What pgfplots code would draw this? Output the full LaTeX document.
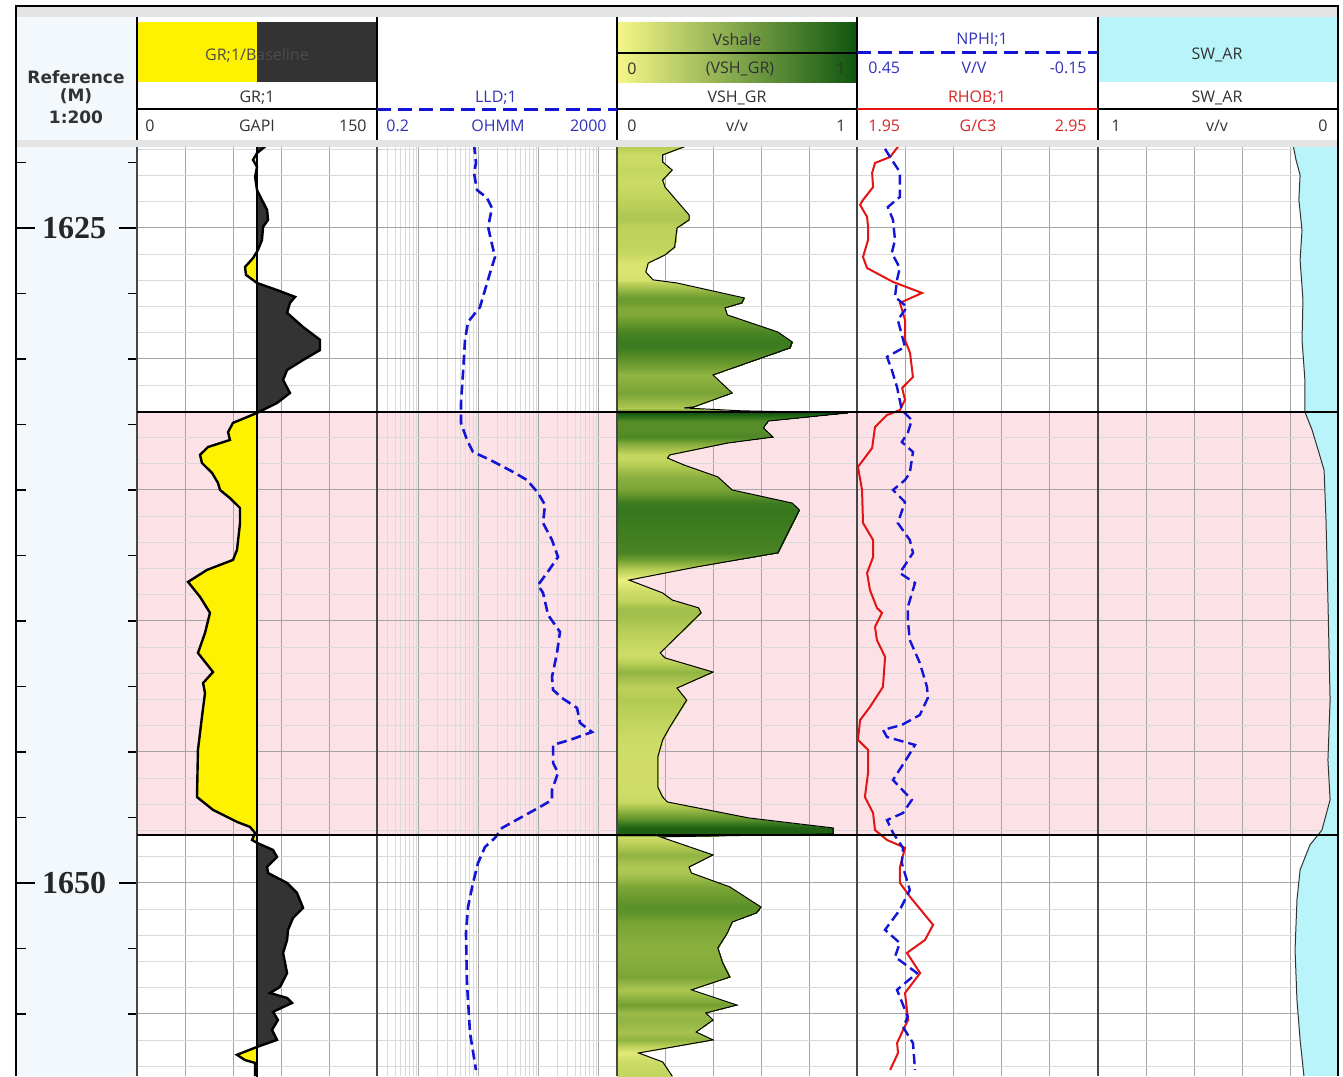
\documentclass[border=0pt]{standalone}
\usepackage{fontspec}
\setmainfont{Open Sans}
\newfontfamily\reffont{DejaVu Sans}
\newfontfamily\depthfont{Liberation Serif}
\usepackage{pgfplots}
\pgfplotsset{compat=1.18}
\usepackage{pgfplotstable}

\definecolor{grdark}{RGB}{51,51,51}
\definecolor{zonepink}{RGB}{252,226,230}
\definecolor{swcyan}{RGB}{185,244,250}
\definecolor{depthbg}{RGB}{243,248,253}
\definecolor{hdrgray}{RGB}{228,228,228}
\definecolor{gridmaj}{RGB}{165,165,165}
\definecolor{gridmin}{RGB}{218,218,218}
\definecolor{trackline}{RGB}{70,70,70}
\definecolor{lldblue}{RGB}{20,20,215}
\definecolor{bluetxt}{RGB}{50,50,190}
\definecolor{rhobred}{RGB}{228,20,20}
\definecolor{redtxt}{RGB}{215,40,40}
\definecolor{txt}{RGB}{50,50,50}
\definecolor{vshA}{RGB}{245,247,135}
\definecolor{vshC}{RGB}{120,165,50}
\definecolor{vshE}{RGB}{15,85,15}

\newcommand\hdr{\fontsize{8}{9}\selectfont}

\pgfplotstableread{
d gr
1621.80 81.9
1622.14 75.0
1622.40 72.5
1622.67 75.0
1623.05 73.8
1623.55 75.0
1623.93 78.1
1624.31 81.3
1624.69 81.9
1624.96 78.8
1625.46 78.1
1625.84 75.6
1626.15 72.5
1626.49 67.5
1626.79 68.1
1627.10 75.0
1627.37 87.5
1627.63 98.8
1627.86 95.6
1628.24 93.8
1628.78 103.8
1629.27 114.4
1629.66 114.4
1630.04 103.8
1630.42 93.8
1630.80 91.3
1631.30 95.6
1631.68 87.5
1632.06 75.0
1632.44 60.0
1632.79 56.9
1633.09 58.1
1633.36 44.4
1633.66 39.4
1633.97 40.6
1634.35 46.9
1634.73 50.6
1635.00 51.9
1635.31 58.1
1635.69 64.4
1636.26 64.4
1637.29 62.5
1637.67 60.0
1638.05 43.8
1638.51 31.9
1639.08 39.4
1639.69 45.6
1640.46 42.5
1641.22 38.1
1641.95 47.5
1642.37 41.3
1642.75 42.5
1643.66 40.6
1644.92 38.1
1646.72 37.5
1647.21 47.5
1647.67 62.5
1647.86 70.6
1648.09 73.8
1648.36 71.9
1648.47 75.0
1648.74 85.0
1649.01 87.5
1649.39 81.3
1649.62 81.9
1650.00 93.8
1650.38 100.0
1650.95 103.8
1651.34 97.5
1651.79 94.4
1652.18 93.8
1652.67 91.3
1653.44 93.8
1653.97 89.4
1654.20 83.1
1654.39 93.8
1654.58 96.9
1654.92 85.0
1655.23 88.1
1655.61 84.4
1655.99 87.5
1656.26 75.0
1656.56 62.5
1656.76 67.5
1656.87 73.8
1657.37 73.8
}\grdata

\pgfplotstableread{
d r
1621.80 8.28
1622.52 8.93
1622.90 8.28
1623.55 9.28
1623.85 13.6
1624.24 16.5
1624.96 14.2
1625.46 15.9
1626.11 18.5
1626.72 15.3
1627.37 12.6
1628.02 10.4
1628.59 6.57
1629.27 5.86
1630.53 5.43
1631.68 5.02
1632.44 5.02
1633.09 6.32
1633.55 7.96
1633.85 15.3
1634.31 37.0
1634.62 63.2
1635.11 96.4
1635.57 126
1636.26 117
1636.91 165
1637.56 208
1638.17 136
1638.63 96.4
1638.93 117
1639.58 136
1639.77 142
1640.42 224
1641.22 200
1642.14 165
1642.63 172
1642.94 242
1643.32 431
1643.89 484
1644.24 766
1644.54 329
1644.73 172
1645.42 172
1645.80 208
1646.45 165
1646.83 165
1647.10 104
1647.52 48.4
1647.90 24.3
1648.28 18.5
1648.63 12.6
1649.24 9.65
1650.00 7.96
1650.92 6.57
1651.91 6.08
1653.82 6.32
1655.73 7.10
1657.14 8.93
}\llddata

\pgfplotstableread{
x d v
0 1621.80 0.31
0.31 1621.80 0.31
0 1622.21 0.19
0.19 1622.21 0.19
0 1622.48 0.19
0.19 1622.48 0.19
0 1622.79 0.23
0.23 1622.79 0.23
0 1623.17 0.19
0.19 1623.17 0.19
0 1623.44 0.20
0.20 1623.44 0.20
0 1624.50 0.30
0.30 1624.50 0.30
0 1624.69 0.30
0.30 1624.69 0.30
0 1625.00 0.25
0.25 1625.00 0.25
0 1625.73 0.24
0.24 1625.73 0.24
0 1626.03 0.20
0.20 1626.03 0.20
0 1626.34 0.13
0.13 1626.34 0.13
0 1626.68 0.12
0.12 1626.68 0.12
0 1626.98 0.15
0.15 1626.98 0.15
0 1627.10 0.25
0.25 1627.10 0.25
0 1627.67 0.53
0.53 1627.67 0.53
0 1627.86 0.52
0.52 1627.86 0.52
0 1628.05 0.45
0.45 1628.05 0.45
0 1628.32 0.46
0.46 1628.32 0.46
0 1628.97 0.67
0.67 1628.97 0.67
0 1629.35 0.73
0.73 1629.35 0.73
0 1629.58 0.72
0.72 1629.58 0.72
0 1630.61 0.40
0.40 1630.61 0.40
0 1631.30 0.48
0.48 1631.30 0.48
0 1631.83 0.32
0.32 1631.83 0.32
0 1631.87 0.28
0.28 1631.87 0.28
0 1631.98 0.52
0.52 1631.98 0.52
0 1632.06 0.96
0.96 1632.06 0.96
0 1632.37 0.63
0.63 1632.37 0.63
0 1632.63 0.61
0.61 1632.63 0.61
0 1632.98 0.65
0.65 1632.98 0.65
0 1633.21 0.46
0.46 1633.21 0.46
0 1633.66 0.22
0.22 1633.66 0.22
0 1633.78 0.21
0.21 1633.78 0.21
0 1634.05 0.28
0.28 1634.05 0.28
0 1634.50 0.42
0.42 1634.50 0.42
0 1635.00 0.48
0.48 1635.00 0.48
0 1635.50 0.73
0.73 1635.50 0.73
0 1635.76 0.76
0.76 1635.76 0.76
0 1637.40 0.67
0.67 1637.40 0.67
0 1637.94 0.33
0.33 1637.94 0.33
0 1638.44 0.05
0.05 1638.44 0.05
0 1638.93 0.19
0.19 1638.93 0.19
0 1639.20 0.23
0.23 1639.20 0.23
0 1639.50 0.34
0.34 1639.50 0.34
0 1639.69 0.35
0.35 1639.69 0.35
0 1641.22 0.18
0.18 1641.22 0.18
0 1641.41 0.20
0.20 1641.41 0.20
0 1641.95 0.40
0.40 1641.95 0.40
0 1642.56 0.25
0.25 1642.56 0.25
0 1643.02 0.29
0.29 1643.02 0.29
0 1644.05 0.22
0.22 1644.05 0.22
0 1644.54 0.19
0.19 1644.54 0.19
0 1645.19 0.17
0.17 1645.19 0.17
0 1646.34 0.17
0.17 1646.34 0.17
0 1646.72 0.19
0.19 1646.72 0.19
0 1646.91 0.21
0.21 1646.91 0.21
0 1647.52 0.55
0.55 1647.52 0.55
0 1647.90 0.90
0.90 1647.90 0.90
0 1648.13 0.90
0.90 1648.13 0.90
0 1648.24 0.18
0.18 1648.24 0.18
0 1648.93 0.40
0.40 1648.93 0.40
0 1649.39 0.30
0.30 1649.39 0.30
0 1649.62 0.31
0.31 1649.62 0.31
0 1650.15 0.47
0.47 1650.15 0.47
0 1650.92 0.60
0.60 1650.92 0.60
0 1651.15 0.58
0.58 1651.15 0.58
0 1651.49 0.48
0.48 1651.49 0.48
0 1651.91 0.46
0.46 1651.91 0.46
0 1652.48 0.42
0.42 1652.48 0.42
0 1653.05 0.44
0.44 1653.05 0.44
0 1653.59 0.47
0.47 1653.59 0.47
0 1654.08 0.31
0.31 1654.08 0.31
0 1654.66 0.50
0.50 1654.66 0.50
0 1654.96 0.37
0.37 1654.96 0.37
0 1655.23 0.40
0.40 1655.23 0.40
0 1655.69 0.33
0.33 1655.69 0.33
0 1655.99 0.40
0.40 1655.99 0.40
0 1656.49 0.09
0.09 1656.49 0.09
0 1656.83 0.19
0.19 1656.83 0.19
0 1657.37 0.23
0.23 1657.37 0.23
}\vshdata

\pgfplotstableread{
d rhob
1621.80 2.129
1622.29 2.088
1622.52 2.025
1622.90 2.013
1623.44 2.017
1623.93 1.975
1624.12 1.963
1624.58 1.992
1624.96 1.996
1625.46 1.996
1626.11 1.975
1626.53 1.992
1627.06 2.100
1627.48 2.221
1627.86 2.129
1628.51 2.150
1629.27 2.150
1629.77 2.171
1630.69 2.183
1631.11 2.138
1631.56 2.150
1631.95 2.129
1632.14 2.075
1632.60 2.025
1633.40 2.013
1634.12 1.954
1635.00 1.971
1636.26 1.975
1636.91 2.017
1637.56 2.017
1638.17 1.992
1638.82 2.004
1639.50 2.033
1639.69 2.054
1640.23 2.025
1640.73 2.033
1641.37 2.067
1642.52 2.058
1643.28 2.004
1643.78 1.963
1644.54 1.954
1644.92 1.996
1645.80 1.996
1646.72 1.983
1647.33 2.017
1647.98 2.025
1648.36 2.075
1648.66 2.150
1649.39 2.129
1650.00 2.129
1650.53 2.171
1651.60 2.267
1652.18 2.233
1652.67 2.158
1653.44 2.213
1654.20 2.150
1655.23 2.163
1655.61 2.142
1656.11 2.117
1656.49 2.121
1657.14 2.088
}\rhobdata

\pgfplotstableread{
d nphi
1621.98 0.380
1622.40 0.363
1622.86 0.343
1623.82 0.343
1624.20 0.373
1624.69 0.360
1625.46 0.355
1625.95 0.363
1626.53 0.343
1626.98 0.350
1627.63 0.355
1628.02 0.325
1628.51 0.348
1629.54 0.330
1629.92 0.375
1630.42 0.363
1631.07 0.350
1631.95 0.338
1632.33 0.313
1632.82 0.323
1633.17 0.338
1633.55 0.310
1634.35 0.318
1634.62 0.330
1635.00 0.360
1635.46 0.330
1636.26 0.348
1636.91 0.318
1637.40 0.310
1638.17 0.343
1638.55 0.305
1639.47 0.323
1639.96 0.323
1640.73 0.318
1641.60 0.293
1642.52 0.275
1642.94 0.273
1643.59 0.293
1643.97 0.338
1644.16 0.385
1644.43 0.375
1644.73 0.305
1645.19 0.323
1646.07 0.360
1646.83 0.313
1647.33 0.335
1647.60 0.375
1648.09 0.360
1648.66 0.335
1649.24 0.338
1650.27 0.318
1651.03 0.343
1651.79 0.380
1652.29 0.343
1652.82 0.355
1653.44 0.300
1654.08 0.350
1655.11 0.323
1655.50 0.335
1656.11 0.310
1657.14 0.305
}\nphidata

\pgfplotstableread{
d sw
1621.80 0.188
1622.40 0.175
1622.98 0.158
1623.93 0.163
1625.08 0.150
1626.22 0.158
1627.75 0.146
1629.27 0.150
1630.80 0.138
1632.02 0.138
1632.71 0.108
1633.47 0.083
1634.24 0.058
1636.15 0.050
1639.20 0.042
1643.02 0.033
1645.31 0.042
1646.83 0.033
1647.98 0.067
1648.55 0.117
1649.50 0.158
1650.65 0.171
1652.56 0.179
1654.47 0.171
1655.99 0.158
1657.37 0.142
}\swdata

\pgfplotsset{
  track/.style={scale only axis, width=120pt, height=464.5pt, anchor=north west,
    y dir=reverse, ymin=1621.91, ymax=1657.37,
    ytick={1625,1630,...,1655}, minor ytick={1622,1623,...,1657},
    yticklabels={}, xticklabels={},
    major tick length=0pt, minor tick length=0pt,
    grid=both,
    major grid style={draw=gridmaj, line width=0.5pt},
    minor grid style={draw=gridmin, line width=0.5pt},
    axis line style={draw=none}},
}

\begin{document}
\begin{tikzpicture}
% ---------- backgrounds and header boxes ----------
\begin{scope}[x=0.5pt,y=-0.5pt]
\fill[white] (0,0) rectangle (1343,1076);
\fill[hdrgray] (17,7) rectangle (1338,17);
\fill[depthbg] (17,17) rectangle (137,1076);
\fill[hdrgray] (17,140) rectangle (1338,147);
\fill[zonepink] (137,412) rectangle (1338,835);
\fill[yellow] (137,22) rectangle (257,82);
\fill[grdark] (257,22) rectangle (377,82);
\shade[left color=vshA, middle color=vshC, right color=vshE] (618,22) rectangle (856,82);
\draw[black, line width=0.6pt] (618,53) -- (856,53);
\fill[swcyan] (1098,17) rectangle (1338,82);
\end{scope}

% ---------- depth track ----------
\begin{axis}[scale only axis, width=60pt, height=464.5pt, at={(8.5pt,-73.5pt)}, anchor=north west,
  y dir=reverse, ymin=1621.91, ymax=1657.37, xmin=0, xmax=1, xtick=\empty,
  ytick={1625,1650}, minor ytick={1622.5,1627.5,1630,1632.5,1635,1637.5,1640,1642.5,1645,1647.5,1652.5,1655},
  yticklabels={}, ytick pos=both, tick align=inside,
  major tick length=9pt, minor tick length=4.5pt,
  tick style={black, line width=0.6pt},
  axis line style={draw=none}]
\node[font=\depthfont\bfseries\fontsize{16}{18}\selectfont, text=black!85] at (axis cs:0.475,1625) {1625};
\node[font=\depthfont\bfseries\fontsize{16}{18}\selectfont, text=black!85] at (axis cs:0.475,1650) {1650};
\end{axis}

% ---------- GR track ----------
\begin{axis}[track, at={(68.5pt,-73.5pt)}, xmin=0, xmax=150, xtick={30,60,90,120}]
\addplot[fill=yellow, draw=none] table[x expr={min(\thisrow{gr},75)}, y=d]{\grdata}
   -- (axis cs:75,1657.37) -- (axis cs:75,1621.80) -- cycle;
\addplot[fill=grdark, draw=none] table[x expr={max(\thisrow{gr},75)}, y=d]{\grdata}
   -- (axis cs:75,1657.37) -- (axis cs:75,1621.80) -- cycle;
\draw[black, line width=0.6pt] (axis cs:75,1621.5) -- (axis cs:75,1657.6);
\addplot[black, line width=1.2pt] table[x=gr,y=d]{\grdata};
\end{axis}

% ---------- LLD track ----------
\begin{axis}[track, at={(188.5pt,-73.5pt)}, xmode=log, log basis x=10, xmin=0.2, xmax=2000,
  xtick={1,10,100,1000},
  minor xtick={0.3,0.4,0.5,0.6,0.7,0.8,0.9,2,3,4,5,6,7,8,9,20,30,40,50,60,70,80,90,200,300,400,500,600,700,800,900}]
\addplot[lldblue, line width=1.3pt, dash pattern=on 5pt off 2.5pt] table[x=r,y=d]{\llddata};
\end{axis}

% ---------- VSH track ----------
\begin{axis}[track, at={(308.5pt,-73.5pt)}, xmin=0, xmax=1, xtick={0.2,0.4,0.6,0.8},
  colormap={vsh}{rgb255(0)=(245,247,135) rgb255(0.25)=(190,210,90) rgb255(0.5)=(115,160,50) rgb255(0.75)=(55,120,30) rgb255(1)=(15,80,15)},
  point meta min=0, point meta max=1]
\addplot[surf, shader=interp, mesh/cols=2, mesh/ordering=x varies, point meta=\thisrow{v}] table[x=x,y=d]{\vshdata};
\addplot[black, line width=0.5pt] table[x=v,y=d]{\vshdata};
\end{axis}

% ---------- NPHI / RHOB track ----------
\begin{axis}[track, at={(428.5pt,-73.5pt)}, xmin=1.95, xmax=2.95, xtick={2.15,2.35,2.55,2.75}]
\addplot[rhobred, line width=1pt] table[x=rhob,y=d]{\rhobdata};
\end{axis}
\begin{axis}[track, at={(428.5pt,-73.5pt)}, xmin=-0.15, xmax=0.45, x dir=reverse, grid=none]
\addplot[lldblue, line width=1.2pt, dash pattern=on 5pt off 2.5pt] table[x=nphi,y=d]{\nphidata};
\end{axis}

% ---------- SW track ----------
\begin{axis}[track, at={(549pt,-73.5pt)}, xmin=0, xmax=1, x dir=reverse, xtick={0.2,0.4,0.6,0.8}]
\addplot[fill=swcyan, draw=none] table[x=sw,y=d]{\swdata}
   -- (axis cs:0,1657.37) -- (axis cs:0,1621.80) -- cycle;
\addplot[black!80, line width=0.5pt] table[x=sw,y=d]{\swdata};
\end{axis}

% ---------- lines and texts ----------
\begin{scope}[x=0.5pt,y=-0.5pt]
\foreach \x in {137,377,617,857,1098} \draw[black, line width=0.6pt] (\x,17) -- (\x,140);
\foreach \x in {137,377,617,857,1098} \draw[trackline, line width=0.8pt] (\x,147) -- (\x,1076);
\draw[black, line width=1.25pt] (137,412) -- (1338,412);
\draw[black, line width=1.25pt] (137,835) -- (1338,835);
\draw[black, line width=1pt] (16,1076) -- (16,6) -- (1338,6) -- (1338,1076);

\draw[black, line width=1pt] (137,109) -- (377,109);
\draw[lldblue, line width=1.5pt, dash pattern=on 7pt off 3.5pt] (377,109) -- (617,109);
\draw[black, line width=1pt] (617,109) -- (857,109);
\draw[rhobred, line width=1pt] (857,109) -- (1098,109);
\draw[black, line width=1pt] (1098,109) -- (1338,109);
\draw[lldblue, line width=1.5pt, dash pattern=on 7pt off 3.5pt] (857,52) -- (1098,52);

\begin{scope}[every node/.style={inner sep=0pt, font=\hdr, text=txt}]
\node[text=black!70] at (257,55) {GR;1/Baseline};
\node at (257,98) {GR;1};
\node[anchor=west] at (145,126) {0};
\node at (257,126) {GAPI};
\node[anchor=east] at (367,126) {150};

\node[text=bluetxt] at (496,98) {LLD;1};
\node[text=bluetxt, anchor=west] at (386,126) {0.2};
\node[text=bluetxt] at (498,126) {OHMM};
\node[text=bluetxt, anchor=east] at (607,126) {2000};

\node at (737,39) {Vshale};
\node[anchor=west] at (627,69) {0};
\node at (740,69) {(VSH\_GR)};
\node[anchor=east] at (846,69) {1};
\node at (737,98) {VSH\_GR};
\node[anchor=west] at (627,126) {0};
\node at (737,126) {v/v};
\node[anchor=east] at (846,126) {1};

\node[text=bluetxt] at (982,40) {NPHI;1};
\node[text=bluetxt, anchor=west] at (868,68) {0.45};
\node[text=bluetxt] at (974,68) {V/V};
\node[text=bluetxt, anchor=east] at (1087,68) {-0.15};
\node[text=redtxt] at (977,98) {RHOB;1};
\node[text=redtxt, anchor=west] at (868,126) {1.95};
\node[text=redtxt] at (978,126) {G/C3};
\node[text=redtxt, anchor=east] at (1087,126) {2.95};

\node at (1217,55) {SW\_AR};
\node at (1217,98) {SW\_AR};
\node[anchor=west] at (1111,126) {1};
\node at (1217,126) {v/v};
\node[anchor=east] at (1328,126) {0};
\end{scope}

\begin{scope}[every node/.style={inner sep=0pt, font=\reffont\bfseries\fontsize{8.5}{10}\selectfont, text=txt}]
\node at (76,77) {Reference};
\node at (76,96) {(M)};
\node at (76,117) {1:200};
\end{scope}
\end{scope}

\pgfresetboundingbox
\path[use as bounding box] (0pt,0pt) rectangle (671.5pt,-538pt);
\end{tikzpicture}
\end{document}
